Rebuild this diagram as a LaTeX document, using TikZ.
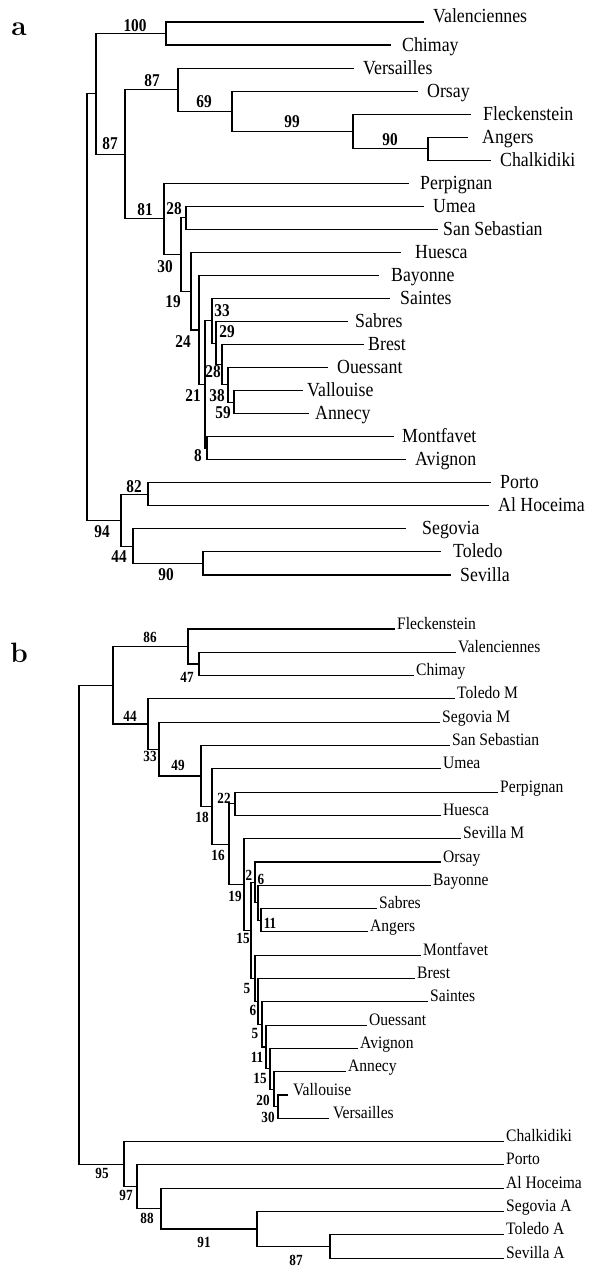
\documentclass[tikz,border=0pt]{standalone}
\usepackage{fontspec}
\newfontfamily\tipfont[FakeStretch=0.89]{Liberation Serif}
\newfontfamily\numfont[FakeStretch=0.85]{Liberation Serif}
\newcommand\tvert[3]{\draw[br] (#1,#2) -- (#1,#3);}
\newcommand\thor[3]{\draw[br] (#1,#3) -- (#2,#3);}
\tikzset{
  br/.style={line width=1.1pt, line cap=rect},
  tipa/.style={inner sep=0pt, anchor=base west, font=\tipfont\fontsize{20}{20}\selectfont},
  tipb/.style={inner sep=0pt, anchor=base west, font=\tipfont\fontsize{17.5}{17.5}\selectfont},
  bsa/.style={inner sep=0pt, anchor=center, font=\numfont\bfseries\fontsize{18}{18}\selectfont},
  bsb/.style={inner sep=0pt, anchor=center, font=\numfont\bfseries\fontsize{15.5}{15.5}\selectfont},
  panel/.style={inner sep=0pt, anchor=center, font=\bfseries\fontsize{28}{28}\selectfont}
}
\begin{document}
\begin{tikzpicture}[x=1pt,y=-1pt]
\useasboundingbox (0,0) rectangle (599,1266);
% ---------------- panel a ----------------
\node[panel] (pa) at (19,29) {a};
\tvert{87}{93.9}{520.2} \thor{87}{96}{93.9} \thor{87}{121}{520.2}
\tvert{96}{33.5}{154.3} \thor{96}{166}{33.5} \thor{96}{125}{154.3}
\tvert{166}{22}{45.0} \thor{166}{423}{22} \thor{166}{390}{45.0}
\tvert{125}{89.7}{218.9} \thor{125}{178}{89.7} \thor{125}{164}{218.9}
\tvert{178}{68.1}{111.3} \thor{178}{353}{68.1} \thor{178}{232}{111.3}
\tvert{232}{91.1}{131.4} \thor{232}{417}{91.1} \thor{232}{353}{131.4}
\tvert{353}{114.2}{148.7} \thor{353}{470}{114.2} \thor{353}{428}{148.7}
\tvert{428}{137.2}{160.2} \thor{428}{467}{137.2} \thor{428}{490}{160.2}
\tvert{164}{183.3}{254.5} \thor{164}{408}{183.3} \thor{164}{181}{254.5}
\tvert{181}{217.8}{291.2} \thor{181}{186}{217.8} \thor{181}{191}{291.2}
\tvert{186}{206.3}{229.4} \thor{186}{423}{206.3} \thor{186}{437}{229.4}
\tvert{191}{252.4}{330.0} \thor{191}{400}{252.4} \thor{191}{199}{330.0}
\tvert{199}{275.4}{384.5} \thor{199}{378}{275.4} \thor{199}{205}{384.5}
\tvert{205}{320.8}{448.2} \thor{205}{212}{320.8} \thor{205}{207}{448.2}
\tvert{212}{298.5}{343.1} \thor{212}{389}{298.5} \thor{212}{216}{343.1}
\tvert{216}{321.5}{364.7} \thor{216}{347}{321.5} \thor{216}{222}{364.7}
\tvert{222}{344.6}{384.9} \thor{222}{363}{344.6} \thor{222}{228}{384.9}
\tvert{228}{367.6}{402.2} \thor{228}{327}{367.6} \thor{228}{234}{402.2}
\tvert{234}{390.6}{413.7} \thor{234}{302}{390.6} \thor{234}{308}{413.7}
\tvert{207}{436.7}{459.8} \thor{207}{393}{436.7} \thor{207}{405}{459.8}
\tvert{121}{494.3}{546.2} \thor{121}{148}{494.3} \thor{121}{133}{546.2}
\tvert{148}{482.8}{505.8} \thor{148}{490}{482.8} \thor{148}{488}{505.8}
\tvert{133}{528.9}{563.4} \thor{133}{405}{528.9} \thor{133}{203}{563.4}
\tvert{203}{551.9}{575.0} \thor{203}{440}{551.9} \thor{203}{450}{575.0}
% tip labels a
\node[tipa] (a1) at (433,22) {Valenciennes};
\node[tipa] (a2) at (402,51) {Chimay};
\node[tipa] (a3) at (363,74.1) {Versailles};
\node[tipa] (a4) at (427,97.1) {Orsay};
\node[tipa] (a5) at (483,120.2) {Fleckenstein};
\node[tipa] (a6) at (482,143.2) {Angers};
\node[tipa] (a7) at (500,166.2) {Chalkidiki};
\node[tipa] (a8) at (420,189.3) {Perpignan};
\node[tipa] (a9) at (433,212.3) {Umea};
\node[tipa] (a10) at (443,235.4) {San Sebastian};
\node[tipa] (a11) at (415,258.4) {Huesca};
\node[tipa] (a12) at (391,281.4) {Bayonne};
\node[tipa] (a13) at (400,304.5) {Saintes};
\node[tipa] (a14) at (355,327.5) {Sabres};
\node[tipa] (a15) at (368,350.6) {Brest};
\node[tipa] (a16) at (337,373.6) {Ouessant};
\node[tipa] (a17) at (307,396.6) {Vallouise};
\node[tipa] (a18) at (315,419.7) {Annecy};
\node[tipa] (a19) at (402,442.7) {Montfavet};
\node[tipa] (a20) at (415,465.8) {Avignon};
\node[tipa] (a21) at (500,488.8) {Porto};
\node[tipa] (a22) at (498,511.8) {Al Hoceima};
\node[tipa] (a23) at (422,534.9) {Segovia};
\node[tipa] (a24) at (453,557.9) {Toledo};
\node[tipa] (a25) at (460,581.0) {Sevilla};
% bootstrap a
\node[bsa] (ba1) at (135,26) {100};
\node[bsa] (ba2) at (152,81) {87};
\node[bsa] (ba3) at (110,144) {87};
\node[bsa] (ba4) at (204,102) {69};
\node[bsa] (ba5) at (292,122) {99};
\node[bsa] (ba6) at (390,140) {90};
\node[bsa] (ba7) at (145,210) {81};
\node[bsa] (ba8) at (174,209) {28};
\node[bsa] (ba9) at (165,267) {30};
\node[bsa] (ba10) at (173,302) {19};
\node[bsa] (ba11) at (183,342) {24};
\node[bsa] (ba12) at (222,311) {33};
\node[bsa] (ba13) at (227,332) {29};
\node[bsa] (ba14) at (213,372) {28};
\node[bsa] (ba15) at (193,396) {21};
\node[bsa] (ba16) at (217,396) {38};
\node[bsa] (ba17) at (223,413) {59};
\node[bsa] (ba18) at (198,456) {8};
\node[bsa] (ba19) at (134,487) {82};
\node[bsa] (ba20) at (102,532) {94};
\node[bsa] (ba21) at (119,557) {44};
\node[bsa] (ba22) at (166,575) {90};
% ---------------- panel b ----------------
\node[panel] (pb) at (19,653) {b};
\tvert{79}{685.3}{1164.2} \thor{79}{113}{685.3} \thor{79}{124}{1164.2}
\tvert{113}{646.5}{724.0} \thor{113}{188}{646.5} \thor{113}{148}{724.0}
\tvert{188}{629.0}{664.0} \thor{188}{394}{629.0} \thor{188}{199}{664.0}
\tvert{199}{652.3}{675.6} \thor{199}{455}{652.3} \thor{199}{413}{675.6}
\tvert{148}{698.9}{749.1} \thor{148}{454}{698.9} \thor{148}{159}{749.1}
\tvert{159}{722.2}{776.0} \thor{159}{439}{722.2} \thor{159}{201}{776.0}
\tvert{201}{745.5}{806.5} \thor{201}{449}{745.5} \thor{201}{212}{806.5}
\tvert{212}{768.8}{844.2} \thor{212}{440}{768.8} \thor{212}{229}{844.2}
\tvert{229}{803.8}{884.6} \thor{229}{235}{803.8} \thor{229}{244}{884.6}
\tvert{235}{792.1}{815.4} \thor{235}{497}{792.1} \thor{235}{440}{815.4}
\tvert{244}{838.7}{930.4} \thor{244}{460}{838.7} \thor{244}{251}{930.4}
\tvert{251}{882.4}{978.4} \thor{251}{255}{882.4} \thor{251}{255}{978.4}
\tvert{255}{862.0}{902.8} \thor{255}{440}{862.0} \thor{255}{258}{902.8}
\tvert{258}{885.3}{920.3} \thor{258}{430}{885.3} \thor{258}{261}{920.3}
\tvert{261}{908.6}{931.9} \thor{261}{376}{908.6} \thor{261}{367}{931.9}
\tvert{255}{955.2}{1001.5} \thor{255}{420}{955.2} \thor{255}{258}{1001.5}
\tvert{258}{978.5}{1024.4} \thor{258}{414}{978.5} \thor{258}{262}{1024.4}
\tvert{262}{1001.8}{1047.0} \thor{262}{427}{1001.8} \thor{262}{266}{1047.0}
\tvert{266}{1025.1}{1068.8} \thor{266}{366}{1025.1} \thor{266}{270}{1068.8}
\tvert{270}{1048.4}{1089.2} \thor{270}{357}{1048.4} \thor{270}{274}{1089.2}
\tvert{274}{1071.7}{1106.7} \thor{274}{345}{1071.7} \thor{274}{278}{1106.7}
\tvert{278}{1095.0}{1118.3} \thor{278}{287}{1095.0} \thor{278}{328}{1118.3}
\tvert{124}{1141.6}{1186.8} \thor{124}{503}{1141.6} \thor{124}{137}{1186.8}
\tvert{137}{1164.9}{1208.6} \thor{137}{503}{1164.9} \thor{137}{161}{1208.6}
\tvert{161}{1188.2}{1229.0} \thor{161}{503}{1188.2} \thor{161}{257}{1229.0}
\tvert{257}{1211.5}{1246.5} \thor{257}{503}{1211.5} \thor{257}{330}{1246.5}
\tvert{330}{1234.8}{1258.1} \thor{330}{503}{1234.8} \thor{330}{503}{1258.1}
% tip labels b
\node[tipb] (b1) at (397,629.0) {Fleckenstein};
\node[tipb] (b2) at (458,652.3) {Valenciennes};
\node[tipb] (b3) at (416,675.6) {Chimay};
\node[tipb] (b4) at (457,698.9) {Toledo M};
\node[tipb] (b5) at (442,722.2) {Segovia M};
\node[tipb] (b6) at (452,745.5) {San Sebastian};
\node[tipb] (b7) at (443,768.8) {Umea};
\node[tipb] (b8) at (500,792.1) {Perpignan};
\node[tipb] (b9) at (443,815.4) {Huesca};
\node[tipb] (b10) at (463,838.7) {Sevilla M};
\node[tipb] (b11) at (443,862.0) {Orsay};
\node[tipb] (b12) at (433,885.3) {Bayonne};
\node[tipb] (b13) at (379,908.6) {Sabres};
\node[tipb] (b14) at (370,931.9) {Angers};
\node[tipb] (b15) at (423,955.2) {Montfavet};
\node[tipb] (b16) at (417,978.5) {Brest};
\node[tipb] (b17) at (430,1001.8) {Saintes};
\node[tipb] (b18) at (369,1025.1) {Ouessant};
\node[tipb] (b19) at (360,1048.4) {Avignon};
\node[tipb] (b20) at (348,1071.7) {Annecy};
\node[tipb] (b21) at (293,1095.0) {Vallouise};
\node[tipb] (b22) at (333,1118.3) {Versailles};
\node[tipb] (b23) at (506,1141.6) {Chalkidiki};
\node[tipb] (b24) at (506,1164.9) {Porto};
\node[tipb] (b25) at (506,1188.2) {Al Hoceima};
\node[tipb] (b26) at (506,1211.5) {Segovia A};
\node[tipb] (b27) at (506,1234.8) {Toledo A};
\node[tipb] (b28) at (506,1258.1) {Sevilla A};
% bootstrap b
\node[bsb] (bb1) at (150,637) {86};
\node[bsb] (bb2) at (187,677) {47};
\node[bsb] (bb3) at (130,716) {44};
\node[bsb] (bb4) at (150,756) {33};
\node[bsb] (bb5) at (178,765) {49};
\node[bsb] (bb6) at (224,798) {22};
\node[bsb] (bb7) at (202,817) {18};
\node[bsb] (bb8) at (218,855) {16};
\node[bsb] (bb9) at (249,875) {2};
\node[bsb] (bb10) at (261,879) {6};
\node[bsb] (bb11) at (235,896) {19};
\node[bsb] (bb12) at (270,923) {11};
\node[bsb] (bb13) at (243,938) {15};
\node[bsb] (bb14) at (247,988) {5};
\node[bsb] (bb15) at (253,1010) {6};
\node[bsb] (bb16) at (255,1033) {5};
\node[bsb] (bb17) at (257,1057) {11};
\node[bsb] (bb18) at (260,1078) {15};
\node[bsb] (bb19) at (263,1100) {20};
\node[bsb] (bb20) at (268,1117) {30};
\node[bsb] (bb21) at (102,1173) {95};
\node[bsb] (bb22) at (126,1195) {97};
\node[bsb] (bb23) at (147,1218) {88};
\node[bsb] (bb24) at (204,1242) {91};
\node[bsb] (bb25) at (296,1260) {87};
\end{tikzpicture}
\end{document}
